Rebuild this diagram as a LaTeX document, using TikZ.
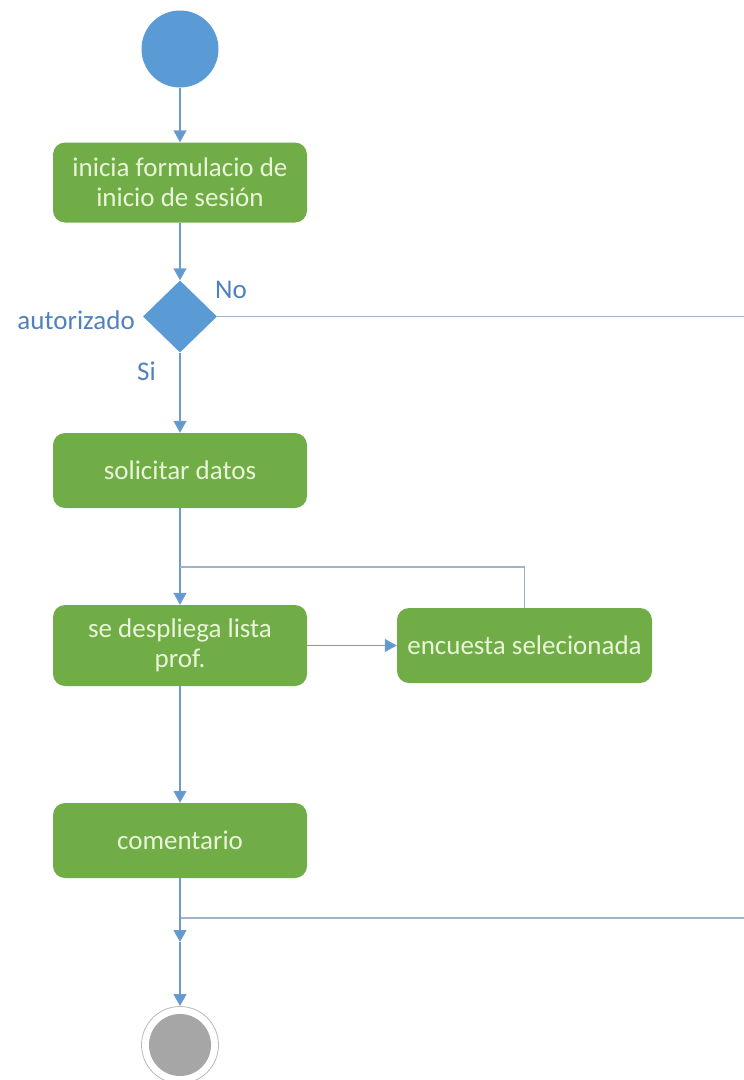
\documentclass[tikz,border=0pt]{standalone}
\usepackage{fontspec}
\setmainfont{Carlito}
\usetikzlibrary{shapes.geometric,arrows.meta}
\definecolor{actgreen}{HTML}{70AD47}
\definecolor{acttext}{HTML}{EAF4D9}
\definecolor{flowblue}{HTML}{5B9BD5}
\definecolor{linkblue}{HTML}{6E9BCB}
\definecolor{thinline}{HTML}{9DB3C9}
\definecolor{labelblue}{HTML}{4F81BD}
\definecolor{endgray}{HTML}{A6A6A6}
\begin{document}
\begin{tikzpicture}[x=1pt,y=-1pt,
  activity/.style={rectangle,rounded corners=12pt,fill=actgreen,text=acttext,
    minimum width=254pt,minimum height=75pt,inner sep=4pt,align=center,
    font=\fontsize{27}{30}\selectfont},
  flow/.style={draw=linkblue,line width=1.5pt,
    -{Triangle[width=13pt,length=12pt,fill=flowblue]}},
  plain/.style={draw=thinline,line width=1.5pt},
  guard/.style={text=labelblue,font=\fontsize{27}{30}\selectfont,inner sep=0pt}]
\useasboundingbox (0,0) rectangle (744,1080);

% start and decision
\node[circle,fill=flowblue,minimum size=77pt,inner sep=0pt] (inicio) at (180,49) {};
\node[diamond,fill=flowblue,minimum width=74pt,minimum height=72pt,inner sep=0pt,aspect=1] (auth) at (180,316.5) {};

% activities
\node[activity,minimum height=80pt] (form) at (180,182.5) {inicia formulacio de\\inicio de sesión};
\node[activity] (datos) at (180,470.5) {solicitar datos};
\node[activity,minimum height=81pt] (lista) at (180,645.5) {se despliega lista\\prof.};
\node[activity,minimum width=255pt] (encuesta) at (524.5,645.5) {encuesta selecionada};
\node[activity] (coment) at (180,840.5) {comentario};

% final node
\node[circle,draw=endgray!80,line width=0.8pt,fill=white,minimum size=77pt,inner sep=0pt] (fin) at (180,1045) {};
\fill[endgray] (fin.center) circle (31pt);

% guard labels
\node[guard,anchor=west] (lno) at (215,290) {No};
\node[guard,anchor=east] (lauth) at (135,320) {autorizado};
\node[guard,anchor=west] (lsi) at (137,371) {Si};

% helper points
\coordinate (noend) at (744,316.5);
\coordinate (loopin) at (180,567);
\coordinate (join) at (180,918);
\coordinate (merge) at (180,942);
\coordinate (rightend) at (744,918);

% connectors
\draw[flow] (inicio) -- (form);
\draw[flow] (form) -- (auth);
\draw[plain] (auth.east) -- (noend);
\draw[flow] (auth) -- (datos);
\draw[flow] (datos) -- (lista);
\draw[plain] (encuesta.north) |- (loopin);
\draw[flow] (lista) -- (encuesta);
\draw[flow] (lista) -- (coment);
\draw[plain] (rightend) -- (join);
\draw[flow] (coment) -- (merge);
\draw[flow] (merge) -- (fin);
\end{tikzpicture}
\end{document}
